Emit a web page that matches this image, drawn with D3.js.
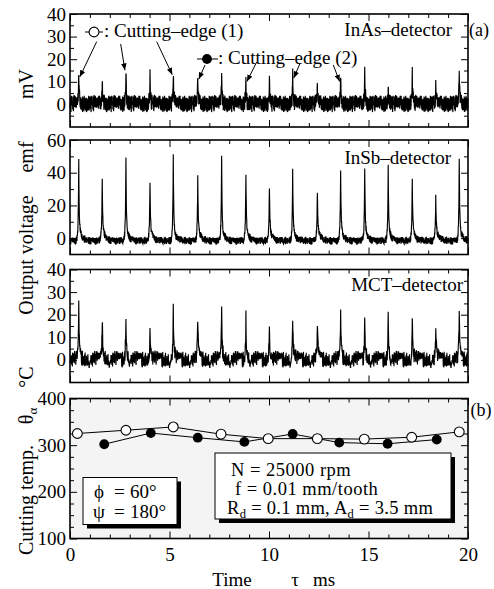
<!DOCTYPE html>
<html><head><meta charset="utf-8">
<script src="https://cdn.jsdelivr.net/npm/d3@7"></script>
<style>
body{margin:0;background:#fff}
svg text{font-family:"Liberation Serif","DejaVu Serif","Times New Roman",serif;fill:#000}
</style>
</head><body>
<svg id="c" width="494" height="589"></svg>
<script>
// ---------------- data ----------------
const spikeTimes = [0.44,1.62,2.81,4.02,5.19,6.42,7.62,8.84,10.02,11.19,12.43,13.60,14.81,15.99,17.20,18.38,19.56];
const inasPeaks  = [13,10,16,12.5,14,12,15,11,10,12.5,8,11,14,7,13.5,7,16];
const insbPeaks  = [46.5,37.7,50,36,49.4,37.3,49.4,40,32.2,40.8,29.6,43.2,43.8,43.2,37.7,24.9,49];
const mctPeaks   = [23.4,19.0,21.0,16.6,22.0,17.6,22.9,19.0,17.3,19.5,14.6,19.8,20.2,22.0,19.9,12.2,20.5];
const edge1Times = [0.37,2.81,5.19,7.59,9.96,12.43,14.79,17.17,19.56];
const edge1Temp  = [325,332,339,323.5,314,314,313,317,328.5];
const edge2Times = [1.72,4.06,6.42,8.76,11.19,13.53,15.96,18.43];
const edge2Temp  = [302,326,316,307,324,305.5,303,312];
const noiseVals = [0.3,-0.8,0.6,-0.2,0.9,-0.6,0.1,-0.9,0.5,-0.4,0.7,-1.0,0.2,0.8,-0.5,0.0,-0.7,0.6,-0.3,0.9,
 -0.8,0.4,-0.1,0.7,-0.6,0.2,-0.9,0.5,0.1,-0.4,0.8,-0.7,0.3,-0.2,0.6,-0.5,1.0,-0.8,0.0,0.4,
 -0.6,0.7,-0.3,0.2,-1.0,0.5,-0.1,0.9,-0.4,0.3,-0.7,0.6,-0.2,0.8,-0.9,0.1,0.4,-0.5,0.7,-0.3,
 0.0,-0.8,0.9,-0.6,0.2,0.5,-0.4,0.3,-0.9,0.7,-0.1,0.6,-0.7,0.4,-0.2,0.8,-0.5,0.1,-0.6,0.9,
 -0.3,0.2,-0.8,0.5,0.0,-0.4,0.7,-1.0,0.3,0.6,-0.2,0.4,-0.7,0.8,-0.5,0.1,-0.3,0.9,-0.6,0.2,-0.1];
const xMajor = [0,5,10,15,20];
const xMinor = [1,2,3,4,6,7,8,9,11,12,13,14,16,17,18,19];

// ---------------- layout ----------------
const FONT = '"Liberation Serif","DejaVu Serif","Times New Roman",serif';
const svg = d3.select("#c");
const L = 70, R = 468;
const x = d3.scaleLinear([0,20],[L,R]);

const panels = [
  {dom:[-10,40], rng:[127,14],   maj:[0,10,20,30,40], min:[-5,5,15,25,35]},
  {dom:[-10,60], rng:[254.5,140],maj:[0,20,40,60],    min:[10,30,50]},
  {dom:[-10,40], rng:[382.5,269.5], maj:[0,10,20,30,40], min:[-5,5,15,25,35]},
  {dom:[100,400],rng:[538.5,398.5], maj:[100,200,300,400], min:[125,150,175,225,250,275,325,350,375]}
];
panels.forEach(p=>p.y = d3.scaleLinear(p.dom,p.rng));

svg.append("rect").attr("x",L).attr("y",panels[3].rng[1]).attr("width",R-L)
   .attr("height",panels[3].rng[0]-panels[3].rng[1]).attr("fill","#f4f4f4");

// ---------------- traces ----------------
function buildTrace(peaks, c){
  const pts=[];
  const N = noiseVals.length;
  for(let i=0;i<=2000;i++){
    const t=i*0.01;
    let v = c.base + c.amp*noiseVals[(i*c.stride + c.off)%N];
    spikeTimes.forEach((t0,k)=>{
      const dt=t-t0;
      const sh = dt>=0 ? Math.exp(-dt/c.tauA) : Math.exp(dt/c.tauB);
      v += c.sh*sh + (peaks[k]-c.base-c.sh)*Math.exp(-Math.abs(dt)/c.tip);
    });
    pts.push([t,v]);
  }
  return pts;
}
const traceCfg = [
  {peaks:inasPeaks, base:0.4, amp:3.8, stride:37, off:3,  sh:2.5,tauA:0.05, tauB:0.02, tip:0.022},
  {peaks:insbPeaks, base:-1.6,amp:2.4, stride:29, off:11, sh:9,  tauA:0.13, tauB:0.04, tip:0.022},
  {peaks:mctPeaks,  base:0.3, amp:3.6, stride:43, off:57, sh:5,  tauA:0.08, tauB:0.03, tip:0.022}
];
traceCfg.forEach((c,i)=>{
  const y = panels[i].y;
  const data = buildTrace(c.peaks,c);
  svg.append("path").datum(data)
    .attr("d", d3.line().x(d=>x(d[0])).y(d=>y(d[1])))
    .attr("fill","none").attr("stroke","#000").attr("stroke-width",1.15);
});

// ---------------- axes ----------------
function axes(p, showX){
  const y=p.y, top=p.rng[1], bot=p.rng[0];
  const style = g=>{g.select(".domain").remove(); g.selectAll("line").attr("stroke","#000").attr("stroke-width",1);
     g.selectAll("text").attr("font-family",FONT).attr("font-size",19).attr("fill","#000");};
  svg.append("g").attr("transform",`translate(0,${bot})`).call(d3.axisBottom(x).tickValues(xMinor).tickSize(-4).tickFormat("")).call(style);
  svg.append("g").attr("transform",`translate(0,${bot})`).call(d3.axisBottom(x).tickValues(xMajor).tickSize(-7).tickPadding(9).tickFormat(showX? d3.format("d"):"")).call(style);
  svg.append("g").attr("transform",`translate(0,${top})`).call(d3.axisTop(x).tickValues(xMinor).tickSize(-4).tickFormat("")).call(style);
  svg.append("g").attr("transform",`translate(0,${top})`).call(d3.axisTop(x).tickValues(xMajor).tickSize(-7).tickFormat("")).call(style);
  svg.append("g").attr("transform",`translate(${L},0)`).call(d3.axisLeft(y).tickValues(p.min).tickSize(-4).tickFormat("")).call(style);
  svg.append("g").attr("transform",`translate(${L},0)`).call(d3.axisLeft(y).tickValues(p.maj).tickSize(-7).tickPadding(4).tickFormat(d3.format("d"))).call(style);
  svg.append("g").attr("transform",`translate(${R},0)`).call(d3.axisRight(y).tickValues(p.min).tickSize(-4).tickFormat("")).call(style);
  svg.append("g").attr("transform",`translate(${R},0)`).call(d3.axisRight(y).tickValues(p.maj).tickSize(-7).tickFormat("")).call(style);
  svg.append("rect").attr("x",L).attr("y",top).attr("width",R-L).attr("height",bot-top)
     .attr("fill","none").attr("stroke","#000").attr("stroke-width",1.6);
}
panels.forEach((p,i)=>axes(p,i===3));

// ---------------- temperature series ----------------
const y4 = panels[3].y;
const s1 = edge1Times.map((t,i)=>[t,edge1Temp[i]]);
const s2 = edge2Times.map((t,i)=>[t,edge2Temp[i]]);
const ln = d3.line().x(d=>x(d[0])).y(d=>y4(d[1]));
[s2,s1].forEach(s=>svg.append("path").datum(s).attr("d",ln).attr("fill","none").attr("stroke","#000").attr("stroke-width",1));
svg.append("g").selectAll("circle").data(s2).join("circle")
  .attr("cx",d=>x(d[0])).attr("cy",d=>y4(d[1])).attr("r",4.9).attr("fill","#000");
svg.append("g").selectAll("circle").data(s1).join("circle")
  .attr("cx",d=>x(d[0])).attr("cy",d=>y4(d[1])).attr("r",4.9).attr("fill","#fff").attr("stroke","#000").attr("stroke-width",1.1);

// ---------------- annotations ----------------
const defs = svg.append("defs");
defs.append("marker").attr("id","ah").attr("viewBox","0 0 10 8").attr("refX",10).attr("refY",4)
  .attr("markerWidth",7).attr("markerHeight",5.5).attr("markerUnits","userSpaceOnUse").attr("orient","auto")
  .append("path").attr("d","M0,0L10,4L0,8z").attr("fill","#000");

function txt(xp,yp,s,size,anchor){
  return svg.append("text").attr("x",xp).attr("y",yp).attr("font-family",FONT).attr("font-size",size||19)
     .attr("text-anchor",anchor||"start").text(s);
}
txt(452,36,"InAs–detector",19,"end");
txt(451,164,"InSb–detector",19,"end");
txt(463,291,"MCT–detector",19,"end");
txt(479,36,"(a)",18,"middle");
txt(481,416,"(b)",18,"middle");

svg.append("line").attr("x1",85).attr("x2",103).attr("y1",32).attr("y2",32).attr("stroke","#000");
svg.append("circle").attr("cx",94).attr("cy",32).attr("r",4.9).attr("fill","#fff").attr("stroke","#000").attr("stroke-width",1.1);
txt(104,37,": Cutting–edge (1)",19);
svg.append("line").attr("x1",197).attr("x2",218).attr("y1",59).attr("y2",59).attr("stroke","#000");
svg.append("circle").attr("cx",207).attr("cy",59).attr("r",4.9).attr("fill","#000");
txt(218,64,": Cutting–edge (2)",19);

const arrows = [
  [96.7,41.7,0],[120.7,44,2],[156.7,41.7,4],
  [205,65,5],[256.7,62,7],[300,63.5,9],[333.3,65,11]
];
const y1s = panels[0].y;
arrows.forEach(a=>{
  const k=a[2];
  svg.append("line").attr("x1",a[0]).attr("y1",a[1])
    .attr("x2",x(spikeTimes[k])+ (a[0]<x(spikeTimes[k])? -1:1)).attr("y2",y1s(inasPeaks[k])+2)
    .attr("stroke","#000").attr("stroke-width",1).attr("marker-end","url(#ah)");
});

function box(x0,y0,w,h){
  svg.append("rect").attr("x",x0+4).attr("y",y0+4).attr("width",w).attr("height",h).attr("fill","#000");
  svg.append("rect").attr("x",x0).attr("y",y0).attr("width",w).attr("height",h).attr("fill","#fff").attr("stroke","#000").attr("stroke-width",1);
}
box(83,477.5,94,47);
txt(94,498,"ϕ",19); txt(114,498,"=",19); txt(130,498,"60°",19);
txt(93,518,"ψ",19); txt(114,518,"=",19); txt(130,518,"180°",19);

box(215,453,236,66);
txt(231,475.5,"N = 25000 rpm",18.5).attr("letter-spacing",0.5);
txt(235,494.5,"f = 0.01 mm/tooth",18.5).attr("letter-spacing",0.5);
const rl = svg.append("text").attr("x",227).attr("y",513.5).attr("font-family",FONT).attr("font-size",18.5).attr("letter-spacing",0.3);
rl.append("tspan").text("R");
rl.append("tspan").attr("font-size",12.5).attr("dy",4).text("d");
rl.append("tspan").attr("dy",-4).text(" = 0.1 mm, A");
rl.append("tspan").attr("font-size",12.5).attr("dy",4).text("d");
rl.append("tspan").attr("dy",-4).text(" = 3.5 mm");

txt(232,586,"Time",19,"middle");
txt(295,586,"τ",19,"middle");
txt(324,586,"ms",19,"middle");

function vtxt(cy,s,size){
  return svg.append("text").attr("transform",`translate(33,${cy}) rotate(-90)`).attr("font-family",FONT)
    .attr("text-anchor","middle").attr("font-size",size||20).text(s);
}
vtxt(84,"mV");
vtxt(157,"emf");
vtxt(255,"Output voltage");
vtxt(377,"°C");
const th = svg.append("text").attr("transform",`translate(33,416) rotate(-90)`).attr("font-family",FONT).attr("text-anchor","middle").attr("font-size",20);
th.append("tspan").text("θ");
th.append("tspan").attr("font-size",13).attr("dy",4).text("α");
vtxt(500,"Cutting temp.");
</script>
</body></html>
